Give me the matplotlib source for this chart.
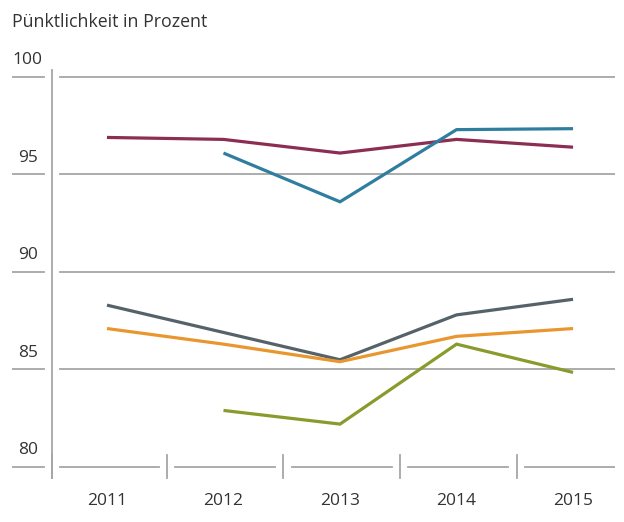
import matplotlib.pyplot as plt

plt.rcParams['font.family'] = ['Open Sans', 'DejaVu Sans']

years = [2011, 2012, 2013, 2014, 2015]
year_labels = ['2011', '2012', '2013', '2014', '2015']

# values (None = no value)
red = [96.9, 96.8, 96.1, 96.8, 96.4]
blue = [None, 96.1, 93.6, 97.3, 97.35]
gray = [88.3, 86.9, 85.5, 87.8, 88.6]
orange = [87.1, 86.3, 85.4, 86.7, 87.1]
olive = [None, 82.9, 82.2, 86.3, 84.85]

yticks = [80, 85, 90, 95, 100]

series = [
    (red, '#8c2d52'),
    (blue, '#2f7e9f'),
    (gray, '#56626a'),
    (orange, '#e9962f'),
    (olive, '#8a9a2c'),
]

fig = plt.figure(figsize=(6.24, 5.22), dpi=100)
ax = fig.add_axes([12 / 624, (522 - 490) / 522, (615 - 12) / 624, (490 - 65) / 522])
ax.set_xlim(2010.185, 2015.36)
ax.set_ylim(78.82, 100.615)
ax.axis('off')

grid_col = '#a6a6a6'
axis_x = 2010.528
gap = 0.07

# horizontal grid lines (split around the vertical axis)
for v in yticks:
    if v == 80:
        continue
    ax.plot([2010.185, axis_x - gap], [v, v], color=grid_col, lw=1.3)
    ax.plot([axis_x + gap, 2015.36], [v, v], color=grid_col, lw=1.3)
    ax.text(2010.32, v + 0.85, str(v), ha='center', va='center', fontsize=12.5, color='#333333')

# bottom line split into segments by little ticks
ax.text(2010.32, 80 + 0.85, '80', ha='center', va='center', fontsize=12.5, color='#333333')
ax.plot([2010.185, axis_x - gap], [80, 80], color=grid_col, lw=1.3)
seps = [axis_x, 2011.515, 2012.515, 2013.515, 2014.515]
for i, s in enumerate(seps):
    ax.plot([s, s], [79.44, 80.6], color=grid_col, lw=1.3)
    end = seps[i + 1] - gap if i + 1 < len(seps) else 2015.36
    ax.plot([s + gap, end], [80, 80], color=grid_col, lw=1.3)

# vertical axis
ax.plot([axis_x, axis_x], [79.44, 100.36], color=grid_col, lw=1.3)

for vals, col in series:
    xs = [x for x, v in zip(years, vals) if v is not None]
    ys = [v for v in vals if v is not None]
    ax.plot(xs, ys, color=col, lw=2.3, solid_capstyle='butt', solid_joinstyle='miter')

for x, lab in zip(years, year_labels):
    ax.text(x, 78.25, lab, ha='center', va='center', fontsize=12.5, color='#333333')

fig.text(12 / 624, 1 - 22 / 522, 'Pünktlichkeit in Prozent', ha='left', va='center',
         fontsize=12.8, color='#333333')

fig.savefig('out.png', dpi=100)
